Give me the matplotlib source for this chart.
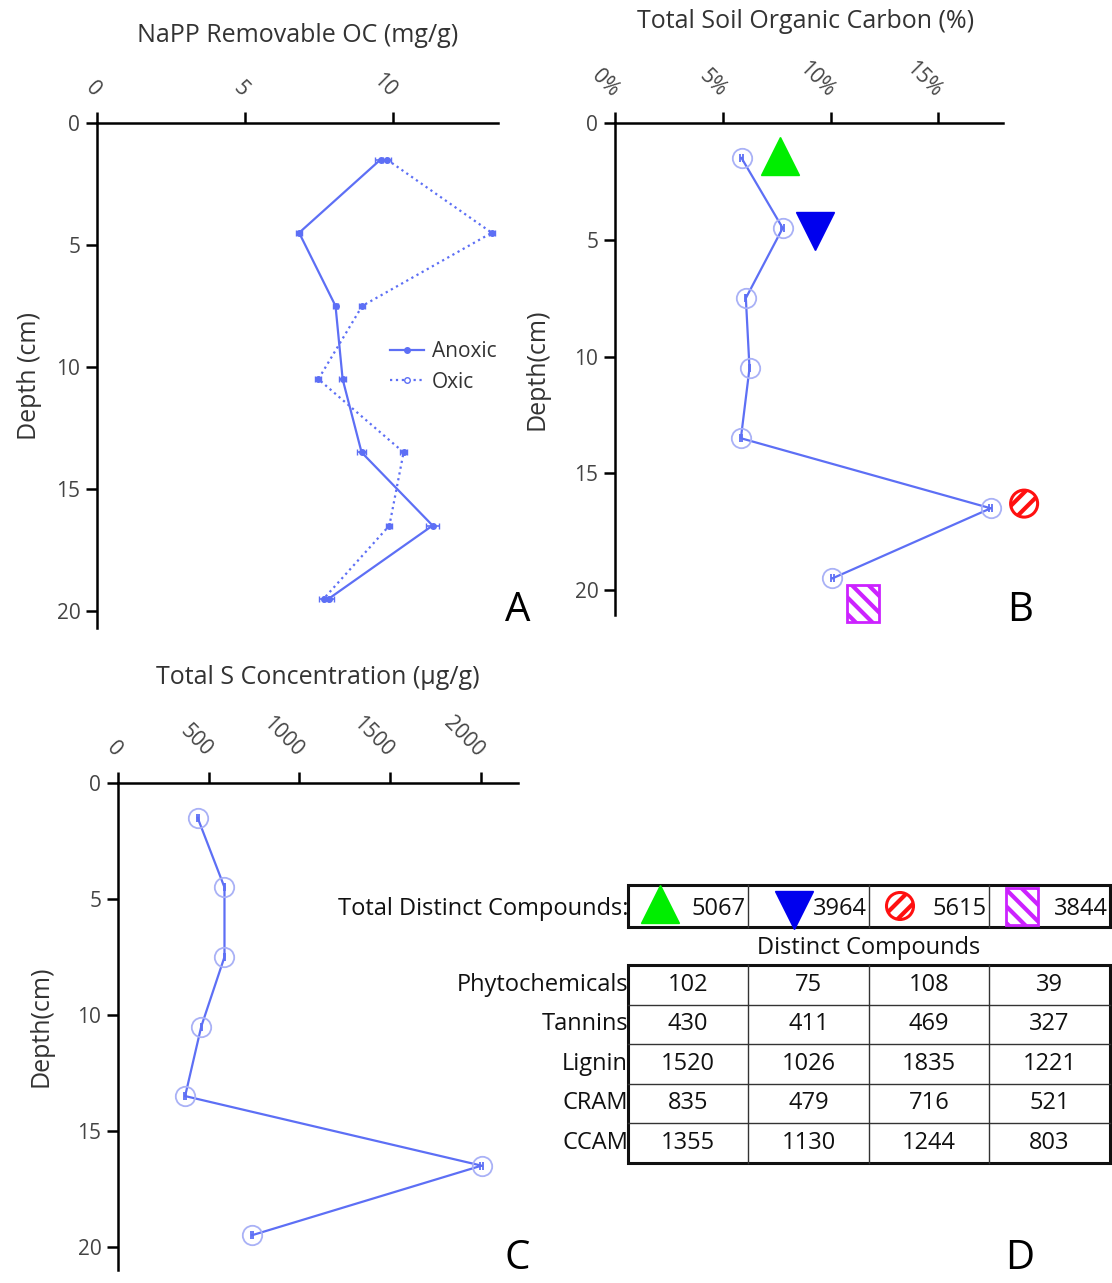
import numpy as np
import matplotlib
matplotlib.use("Agg")
import matplotlib.pyplot as plt
from matplotlib.lines import Line2D
from matplotlib.patches import Circle, Rectangle
from matplotlib.ticker import PercentFormatter
from matplotlib.transforms import ScaledTranslation

plt.rcParams['font.family'] = ['Open Sans', 'DejaVu Sans']
plt.rcParams['hatch.linewidth'] = 3.0

# depth of each sampled slice (cm)
depth = [1.5, 4.5, 7.5, 10.5, 13.5, 16.5, 19.5]

# NaPP removable OC (mg/g)
anoxic = [9.58, 6.83, 8.06, 8.30, 8.94, 11.34, 7.83]
anoxic_err = [0.20, 0.10, 0.10, 0.12, 0.15, 0.22, 0.18]
oxic = [9.80, 13.34, 8.96, 7.48, 10.36, 9.88, 7.66]
oxic_err = [0.15, 0.10, 0.10, 0.10, 0.12, 0.10, 0.15]

# total soil organic carbon (%)
soc = [5.87, 7.78, 6.07, 6.24, 5.84, 17.43, 10.09]
soc_err = [0.06, 0.06, 0.03, 0.03, 0.06, 0.08, 0.06]

# total S (ug/g)
sulfur = [439, 587, 587, 459, 370, 2004, 739]
sulfur_err = [5, 4, 4, 4, 5, 10, 6]

# sample keys: (% OC, depth) where each symbol sits in panel B
key_names = ['up', 'down', 'circle', 'square']
key_x = [7.66, 9.28, 18.98, 11.5]
key_y = [1.41, 4.63, 16.3, 20.56]

# compound counts per sample
total_compounds = [5067, 3964, 5615, 3844]
classes = ['Phytochemicals', 'Tannins', 'Lignin', 'CRAM', 'CCAM']
counts = [
    [102, 75, 108, 39],
    [430, 411, 469, 327],
    [1520, 1026, 1835, 1221],
    [835, 479, 716, 521],
    [1355, 1130, 1244, 803],
]

LINE = '#5d6ff5'
RING = '#a9b1f6'
TXT = '#333333'
GREEN = '#00ee00'
BLUE = '#0000ee'
RED = '#ff1010'
PURPLE = '#cc22ff'

W, H = 1112, 1283
fig = plt.figure(figsize=(W / 100, H / 100), dpi=100)


def px_axes(left, top, right, bottom):
    return fig.add_axes([left / W, 1 - bottom / H, (right - left) / W, (bottom - top) / H])


def depth_axes(ax, ymax, xmax, ylabel, label_x):
    ax.set_ylim(ymax, 0)
    ax.set_xlim(0, xmax)
    ax.xaxis.set_ticks_position('top')
    for s in ['right', 'bottom']:
        ax.spines[s].set_visible(False)
    for s in ['top', 'left']:
        ax.spines[s].set_linewidth(1.8)
    ax.tick_params(axis='both', direction='out', length=8, width=1.8,
                   labelsize=15, labelcolor='#444444')
    ax.tick_params(axis='x', pad=13)
    ax.tick_params(axis='y', pad=4)
    ax.set_yticks([0, 5, 10, 15, 20])
    for lab in ax.get_xticklabels():
        lab.set_rotation(-45)
        lab.set_rotation_mode('anchor')
        lab.set_horizontalalignment('right')
        lab.set_verticalalignment('center')
    ax.set_ylabel(ylabel, fontsize=18, color=TXT)
    ax.yaxis.set_label_coords(label_x, 0.5)


# ---- A: NaPP removable OC
axA = px_axes(97, 123, 498, 628)
axA.errorbar(anoxic, depth, xerr=anoxic_err, color=LINE, lw=1.6, marker='o', ms=4,
             capsize=2.5, elinewidth=1.2)
axA.errorbar(oxic, depth, xerr=oxic_err, color=LINE, lw=1.6, ls=':', marker='o', ms=4,
             capsize=2.5, elinewidth=1.2)
axA.set_xticks([0, 5, 10])
depth_axes(axA, 20.7, 13.55, 'Depth (cm)', -0.137)
handles = [Line2D([], [], color=LINE, lw=1.6, marker='o', ms=4),
           Line2D([], [], color=LINE, lw=1.6, ls=':', marker='o', ms=4, mfc='white')]
axA.legend(handles, ['Anoxic', 'Oxic'], loc='upper left', bbox_to_anchor=(0.685, 0.605),
           frameon=False, fontsize=15, handlelength=1.6, handletextpad=0.4,
           labelspacing=0.45, labelcolor=TXT)
fig.text(298 / W, 1 - 35 / H, 'NaPP Removable OC (mg/g)', fontsize=18, color=TXT,
         ha='center', va='center')


def key_symbol(ax, kind, xy, transform):
    """Draw one sample key symbol centred on xy (in the given transform)."""
    if kind == 'up':
        ax.plot(*xy, marker='^', ms=27, color=GREEN, mec=GREEN, transform=transform,
                clip_on=False, zorder=5)
    elif kind == 'down':
        ax.plot(*xy, marker='v', ms=27, color=BLUE, mec=BLUE, transform=transform,
                clip_on=False, zorder=5)
    elif kind == 'circle':
        off = fig.dpi_scale_trans + ScaledTranslation(xy[0], xy[1], transform)
        ax.add_patch(Circle((0, 0), 0.135, transform=off, facecolor='white', edgecolor=RED,
                            lw=2.2, hatch='//', clip_on=False, zorder=5))
    elif kind == 'square':
        off = fig.dpi_scale_trans + ScaledTranslation(xy[0], xy[1], transform)
        ax.add_patch(Rectangle((-0.16, -0.185), 0.32, 0.37, transform=off, facecolor='white',
                               edgecolor=PURPLE, lw=2.0, hatch='\\\\', clip_on=False, zorder=5))


# ---- B: total soil organic carbon
axB = px_axes(615, 123, 1003, 615)
axB.errorbar(soc, depth, xerr=soc_err, color=LINE, lw=1.6, capsize=3, elinewidth=1.2,
             marker='o', ms=14, mfc='none', mec=RING, mew=1.3)
axB.set_xticks([0, 5, 10, 15])
axB.xaxis.set_major_formatter(PercentFormatter(decimals=0))
depth_axes(axB, 21.07, 18.0, 'Depth(cm)', -0.170)
fig.text(806 / W, 1 - 21 / H, 'Total Soil Organic Carbon (%)', fontsize=18, color=TXT,
         ha='center', va='center')
for name, x, y in zip(key_names, key_x, key_y):
    key_symbol(axB, name, (x, y), axB.transData)

# ---- C: total S
axC = px_axes(118, 783, 518, 1270)
axC.errorbar(sulfur, depth, xerr=sulfur_err, color=LINE, lw=1.6, capsize=3, elinewidth=1.2,
             marker='o', ms=14, mfc='none', mec=RING, mew=1.3)
axC.set_xticks([0, 500, 1000, 1500, 2000])
depth_axes(axC, 21.0, 2205, 'Depth(cm)', -0.16)
fig.text(318 / W, 1 - 678 / H, 'Total S Concentration (µg/g)', fontsize=18, color=TXT,
         ha='center', va='center')

# ---- D: compound table, drawn on a pixel-unit overlay
axD = fig.add_axes([0, 0, 1, 1])
axD.set_xlim(0, W)
axD.set_ylim(H, 0)
axD.axis('off')
tfont = dict(family=['Liberation Sans Narrow', 'Open Sans'], fontsize=17, color='#111111')

col_edges = [628, 748, 869, 989, 1110]
axD.text(628, 909, 'Total Distinct Compounds:', ha='right', va='center', **tfont)
axD.add_patch(Rectangle((628, 885), 482, 42, fill=False, lw=2.2, ec='#111111'))
for xe in col_edges[1:-1]:
    axD.plot([xe, xe], [885, 927], color='#333333', lw=1.0)
key_pos = [(660, 904), (794, 910), (900, 906), (1022, 906)]
for i, (name, n) in enumerate(zip(key_names, total_compounds)):
    key_symbol(axD, name, key_pos[i], axD.transData)
    axD.text(col_edges[i + 1] - 2, 909, str(n), ha='right', va='center', **tfont)

axD.text(869, 948, 'Distinct Compounds', ha='center', va='center', **tfont)
top, row_h = 965, 39.5
n_rows = len(classes)
axD.add_patch(Rectangle((628, top), 482, row_h * n_rows, fill=False, lw=2.2, ec='#111111'))
for r in range(1, n_rows):
    axD.plot([628, 1110], [top + r * row_h] * 2, color='#333333', lw=1.0)
for xe in col_edges[1:-1]:
    axD.plot([xe, xe], [top, top + row_h * n_rows], color='#333333', lw=1.0)
for r, (cls, row) in enumerate(zip(classes, counts)):
    yc = top + (r + 0.5) * row_h
    axD.text(628, yc, cls, ha='right', va='center', **tfont)
    for c, v in enumerate(row):
        axD.text((col_edges[c] + col_edges[c + 1]) / 2, yc, str(v), ha='center', va='center',
                 **tfont)

# panel letters
for letter, x, y in [('A', 518, 611), ('B', 1020, 611), ('C', 517, 1259), ('D', 1020, 1259)]:
    axD.text(x, y, letter, ha='center', va='center', fontsize=29)

fig.savefig('out.png', dpi=100)
